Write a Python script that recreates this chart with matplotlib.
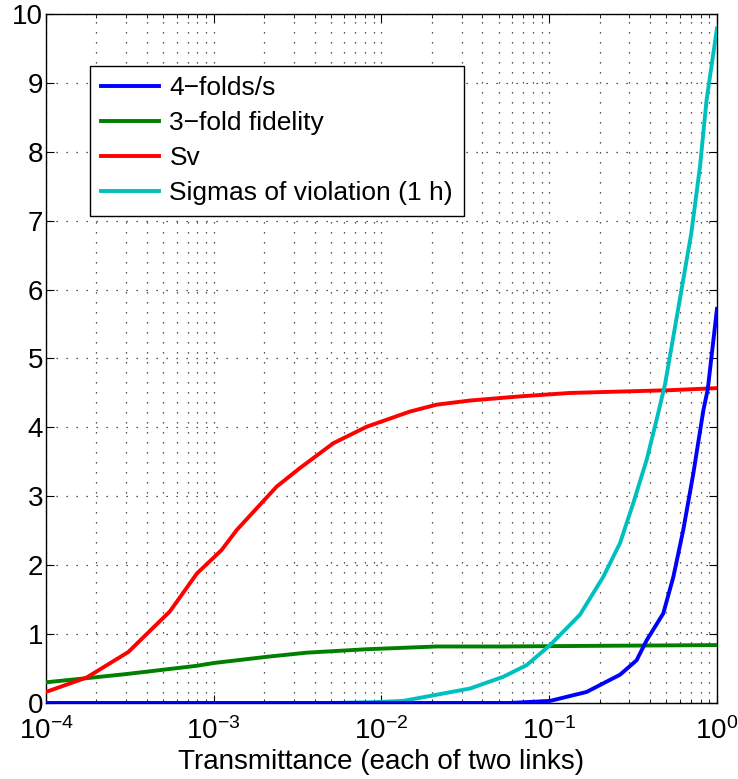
import numpy as np
import matplotlib
matplotlib.use("Agg")
import matplotlib.pyplot as plt
from matplotlib.ticker import LogLocator, NullFormatter

plt.rcParams['font.family'] = ['Liberation Sans', 'DejaVu Sans']
plt.rcParams['mathtext.fontset'] = 'custom'
plt.rcParams['mathtext.rm'] = 'Liberation Sans'
plt.rcParams['mathtext.it'] = 'Liberation Sans'

# Sv
sv_logx = [-4.0, -3.757, -3.509, -3.261, -3.10, -2.953, -2.863, -2.625, -2.486, -2.287,
           -2.088, -1.83, -1.671, -1.472, -1.174, -0.876, -0.578, -0.280, 0.0]
sv_y = [0.16, 0.37, 0.74, 1.33, 1.88, 2.22, 2.51, 3.14, 3.41, 3.77,
        4.01, 4.23, 4.33, 4.39, 4.45, 4.50, 4.52, 4.54, 4.57]

# 3-fold fidelity
fid_logx = [-4.0, -3.757, -3.52, -3.10, -3.0, -2.684, -2.446, -2.088, -1.67, -1.27, -0.68, 0.0]
fid_y = [0.30, 0.36, 0.42, 0.54, 0.58, 0.67, 0.73, 0.78, 0.82, 0.82, 0.83, 0.84]

# Sigmas of violation (1 h)
sig_logx = [-2.30, -2.069, -1.87, -1.671, -1.472, -1.274, -1.134, -0.995, -0.817, -0.678,
            -0.578, -0.499, -0.419, -0.360, -0.310, -0.222, -0.153, -0.101, -0.062, 0.0]
sig_y = [0.0, 0.01, 0.03, 0.12, 0.21, 0.38, 0.55, 0.84, 1.28, 1.83,
         2.32, 2.90, 3.53, 4.11, 4.62, 5.85, 6.82, 7.79, 8.75, 9.79]

# 4-folds/s
four_logx = [-4.0, -2.0, -1.234, -0.995, -0.777, -0.578, -0.479, -0.419, -0.320, -0.260,
             -0.201, -0.141, -0.081, -0.055, 0.0]
four_y = [0.0, 0.0, 0.0, 0.03, 0.16, 0.41, 0.62, 0.91, 1.30, 1.83,
          2.51, 3.33, 4.25, 4.55, 5.72]

labels = ['4\u2212folds/s', '3\u2212fold fidelity', 'Sv', 'Sigmas of violation (1 h)']
colors = ['#0000ff', '#007f00', '#ff0000', '#00bfbf']

fig = plt.figure(figsize=(7.38, 7.79), dpi=100)
ax = fig.add_axes([0.0623, 0.0976, 0.9092, 0.8844])

lw = 2.8
ax.plot(10 ** np.array(four_logx), four_y, color=colors[0], lw=lw, label=labels[0], zorder=5)
ax.plot(10 ** np.array(fid_logx), fid_y, color=colors[1], lw=lw, label=labels[1], zorder=4)
ax.plot(10 ** np.array(sv_logx), sv_y, color=colors[2], lw=lw, label=labels[2], zorder=4)
ax.plot(10 ** np.array(sig_logx), sig_y, color=colors[3], lw=lw, label=labels[3], zorder=4)

ax.set_xscale('log')
ax.set_xlim(1e-4, 1)
ax.set_ylim(0, 10)
ax.set_yticks(range(0, 11))
ax.xaxis.set_major_locator(LogLocator(base=10, numticks=10))
ax.xaxis.set_minor_locator(LogLocator(base=10, subs=np.arange(2, 10), numticks=50))
ax.xaxis.set_minor_formatter(NullFormatter())

gstyle = (0, (1, 7))
ax.grid(True, which='major', linestyle=gstyle, color='#222222', linewidth=0.9)
ax.grid(True, which='minor', axis='x', linestyle=gstyle, color='#222222', linewidth=0.9)

ax.tick_params(which='both', direction='in', top=True, right=True, labelsize=20, colors='black')
ax.tick_params(which='major', length=6, width=0.8)
ax.tick_params(which='minor', length=3, width=0.6)
ax.tick_params(axis='y', which='major', pad=2)
ax.tick_params(axis='x', which='major', pad=10)
for s in ax.spines.values():
    s.set_linewidth(1.0)

ax.set_xlabel('Transmittance (each of two links)', fontsize=20, labelpad=3)

leg = ax.legend(loc='upper left', bbox_to_anchor=(0.066, 0.925), fontsize=19,
                frameon=True, fancybox=False, edgecolor='black', framealpha=1,
                handlelength=2.2, borderaxespad=0, labelspacing=0.42,
                handletextpad=0.4, borderpad=0.4)
leg.get_frame().set_linewidth(1.0)

fig.savefig('out.png', dpi=100)
